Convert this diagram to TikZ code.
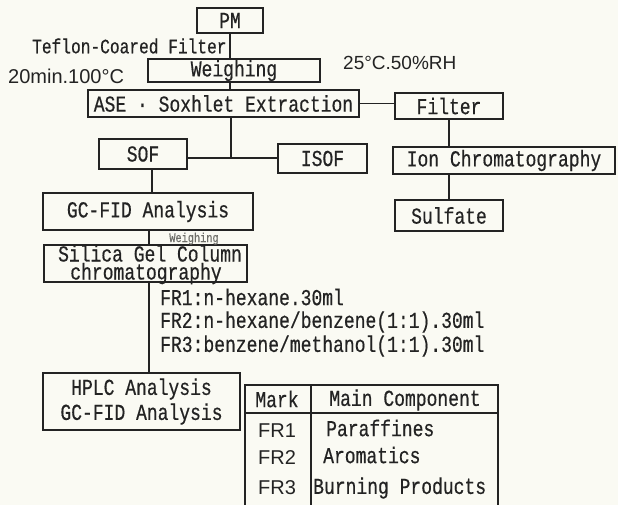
\documentclass[tikz,border=0pt]{standalone}
\usepackage{fontspec}
\setmainfont{Liberation Mono}[FakeStretch=0.79,FakeBold=0.5]
\newfontfamily\sansf{Liberation Sans}
\definecolor{bg}{RGB}{250,250,243}
\definecolor{ink}{RGB}{35,35,35}
\definecolor{faint}{RGB}{110,110,105}
\begin{document}
\begin{tikzpicture}[x=1pt,y=-1pt,
  box/.style={draw=ink, line width=1.1pt, inner sep=0pt, align=center, text=ink, font=\fontsize{22.8}{25}\selectfont},
  ln/.style={draw=ink, line width=1.1pt},
  lbl/.style={inner sep=0pt, anchor=west, text=ink, font=\fontsize{22.8}{25}\selectfont},
  ctr/.style={inner sep=0pt, text=ink, font=\fontsize{22.8}{25}\selectfont},
  sanslbl/.style={inner sep=0pt, text=ink, font=\sansf\fontsize{20}{22}\selectfont}]
\fill[bg] (0,0) rectangle (618,505);
\useasboundingbox (0,0) rectangle (618,505);
% boxes
\node[box, minimum width=66pt, minimum height=25pt] (pm) at (230,20.5) {PM};
\node[box, minimum width=172pt, minimum height=23pt] (weigh) at (234,70.5) {Weighing};
\node[box, minimum width=271pt, minimum height=27pt] (ase) at (223.5,103.5) {ASE · Soxhlet Extraction};
\node[box, minimum width=108pt, minimum height=26pt] (filter) at (449,106) {Filter};
\node[box, minimum width=222pt, minimum height=27pt] (ion) at (504,160.5) {Ion Chromatography};
\node[box, minimum width=108pt, minimum height=31pt] (sulfate) at (449,215.5) {Sulfate};
\node[box, minimum width=88pt, minimum height=30pt] (sof) at (143,154) {SOF};
\node[box, minimum width=89pt, minimum height=29pt] (isof) at (322.5,158.5) {ISOF};
\node[box, minimum width=210pt, minimum height=37pt] (gc) at (148,211.5) {GC-FID Analysis};
\node[box, minimum width=203pt, minimum height=37pt] (sil) at (145.5,263.5) {};
\node[ctr, anchor=base, text height=11pt, text depth=0pt] (sil1) at (150,261.5) {Silica Gel Column};
\node[ctr, anchor=base, text height=9pt, text depth=4pt] (sil2) at (146,279.5) {chromatography};
\node[box, minimum width=197pt, minimum height=57pt] (hplc) at (141.5,401.5) {HPLC Analysis\\GC-FID Analysis};
% free labels
\node[lbl, font=\fontsize{20.5}{22}\selectfont] (tef) at (32,46) {Teflon-Coared Filter};
\node[sanslbl, anchor=west] (tmin) at (8,76) {20min.100°C};
\node[sanslbl, anchor=west, font=\sansf\fontsize{19}{21}\selectfont] (rh) at (343,63) {25°C.50\%RH};
\node[ctr, anchor=base, text=faint, font=\fontsize{13}{14}\selectfont, text height=7pt, text depth=0pt] (wsmall) at (194,242) {Weighing};
\node[lbl] (fr1) at (160,297) {FR1:n-hexane.30ml};
\node[lbl] (fr2) at (160,322) {FR2:n-hexane/benzene(1:1).30ml};
\node[lbl] (fr3) at (160,346) {FR3:benzene/methanol(1:1).30ml};
% connectors
\coordinate (J) at (231,158);
\coordinate (c1) at (152,0);
\coordinate (c2) at (149,0);
\draw[ln] (pm.south) -- (pm.south |- weigh.north);
\draw[ln] (pm.south |- weigh.south) -- (pm.south |- ase.north);
\draw[ln] (J |- ase.south) -- (J);
\draw[ln] (sof.east |- J) -- (isof.west |- J);
\draw[ln] (ase.east) -- (ase.east -| filter.west);
\draw[ln] (filter.south) -- (filter.south |- ion.north);
\draw[ln] (ion.south -| filter.south) -- (sulfate.north);
\draw[ln] (c1 |- sof.south) -- (c1 |- gc.north);
\draw[ln] (c2 |- gc.south) -- (c2 |- sil.north);
\draw[ln] (c2 |- sil.south) -- (c2 |- hplc.north);
% table
\draw[ln] (245,507) -- (245,385) -- (498,385) -- (498,507);
\draw[ln] (245,413) -- (498,413);
\draw[ln] (311,385) -- (311,507);
\node[ctr] (mark) at (277,399) {Mark};
\node[ctr] (mainc) at (405,400) {Main Component};
\node[sanslbl] (r1) at (277,431) {FR1};
\node[sanslbl] (r2) at (277,458) {FR2};
\node[sanslbl] (r3) at (277,488) {FR3};
\node[lbl] (p1) at (326,428) {Paraffines};
\node[lbl] (p2) at (323,455) {Aromatics};
\node[lbl] (p3) at (313,488) {Burning Products};
\end{tikzpicture}
\end{document}
